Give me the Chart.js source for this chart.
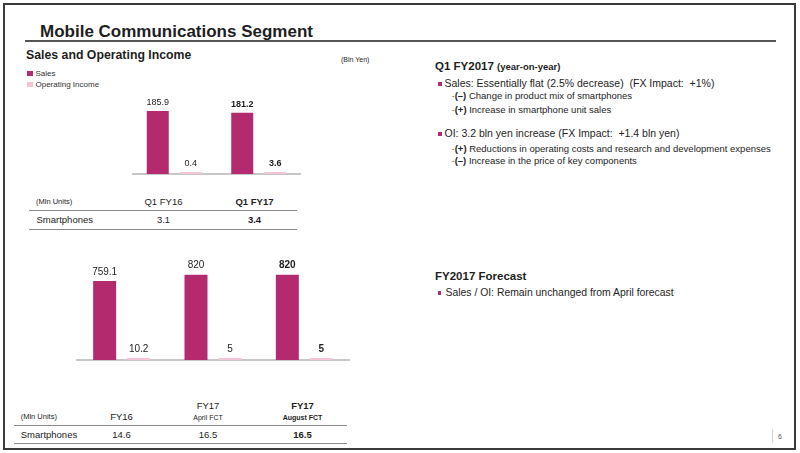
<!DOCTYPE html>
<html>
<head>
<meta charset="utf-8">
<script src="https://cdn.jsdelivr.net/npm/chart.js@4.4.1/dist/chart.umd.min.js"></script>
<style>
  html, body { margin: 0; padding: 0; background: #fff; }
  body { width: 800px; height: 453px; position: relative; overflow: hidden;
         font-family: "Liberation Sans", Arial, sans-serif; color: #1e1e1e; }
  .abs { position: absolute; line-height: 1; white-space: nowrap; }
  .frame { position: absolute; left: 3px; top: 3px; width: 789px; height: 443px; border: 2px solid #3a3a3a; }
  .rule { position: absolute; background: #555; }
  .tline { position: absolute; height: 1px; background: #8a8a8a; }
  .sq { position: absolute; }
  .c { transform: translateX(-50%); }
  .b { font-weight: bold; }
  canvas { position: absolute; }
</style>
</head>
<body>
<div class="frame"></div>

<div class="abs b" style="left:40px; top:22.5px; font-size:17px;">Mobile Communications Segment</div>
<div class="rule" style="left:25px; top:40px; width:751px; height:2px;"></div>

<div class="abs b" style="left:26px; top:49px; font-size:12.3px;">Sales and Operating Income</div>
<div class="abs" style="left:341px; top:56px; font-size:7px;">(Bln Yen)</div>
<div id="legend"></div>

<canvas id="chart_q1" width="169" height="87" style="left:132px; top:90px;"></canvas>
<canvas id="chart_fy" width="274" height="113" style="left:76px; top:250px;"></canvas>

<div id="tabla_q1"></div>
<div id="tabla_fy"></div>

<!-- texto de la derecha -->
<div class="abs" style="left:435px; top:61px; font-size:11.5px;"><span class="b">Q1 FY2017</span> <span class="b" style="font-size:9.5px;">(year-on-year)</span></div>
<div class="sq" style="left:438px; top:82px; width:3.5px; height:3.5px; background:#b42a6f;"></div>
<div class="abs" style="left:444.5px; top:78px; font-size:10.5px;">Sales: Essentially flat (2.5% decrease)&nbsp; (FX Impact:&nbsp; +1%)</div>
<div class="abs" style="left:451.5px; top:91px; font-size:9.5px;">·<b>(–)</b> Change in product mix of smartphones</div>
<div class="abs" style="left:451.5px; top:104.5px; font-size:9.5px;">·<b>(+)</b> Increase in smartphone unit sales</div>
<div class="sq" style="left:438px; top:132px; width:3.5px; height:3.5px; background:#b42a6f;"></div>
<div class="abs" style="left:444.5px; top:128px; font-size:10.5px;">OI: 3.2 bln yen increase (FX Impact:&nbsp; +1.4 bln yen)</div>
<div class="abs" style="left:451.5px; top:143.5px; font-size:9.5px;">·<b>(+)</b> Reductions in operating costs and research and development expenses</div>
<div class="abs" style="left:451.5px; top:156px; font-size:9.5px;">·<b>(–)</b> Increase in the price of key components</div>

<div class="abs b" style="left:435px; top:271px; font-size:11.5px;">FY2017 Forecast</div>
<div class="sq" style="left:437.5px; top:291px; width:3.5px; height:3.5px; background:#b42a6f;"></div>
<div class="abs" style="left:445.5px; top:287.5px; font-size:10.4px;">Sales / OI: Remain unchanged from April forecast</div>

<div style="position:absolute; left:771.5px; top:429px; width:1px; height:14px; background:#cfcfcf;"></div>
<div class="abs" style="left:778px; top:433px; font-size:7px; color:#555;">6</div>

<script>
// datos del primer trimestre
var q1_categorias = ['Q1 FY16', 'Q1 FY17'];
var q1_ventas = [185.9, 181.2];
var q1_resultado = [0.4, 3.6];
var q1_smartphones = [3.1, 3.4];

// datos del año fiscal
var fy_categorias = ['FY16', 'FY17 April FCT', 'FY17 August FCT'];
var fy_ventas = [759.1, 820, 820];
var fy_resultado = [10.2, 5, 5];
var fy_smartphones = [14.6, 16.5, 16.5];

var series = ['Sales', 'Operating Income'];
var color_ventas = '#b42a6f';
var color_resultado = '#f4c4d9';

// etiquetas de valor encima de cada barra, la ultima en negrita
var etiquetas = {
  id: 'etiquetas',
  beforeDatasetsDraw: function (chart) {
    var ctx = chart.ctx, a = chart.chartArea;
    var y0 = chart.scales.y.getPixelForValue(0);
    ctx.save();
    ctx.strokeStyle = '#b4b4b4';
    ctx.lineWidth = 1.5;
    ctx.beginPath();
    ctx.moveTo(a.left, y0);
    ctx.lineTo(a.right, y0);
    ctx.stroke();
    ctx.restore();
  },
  afterDatasetsDraw: function (chart, args, opts) {
    var ctx = chart.ctx;
    ctx.save();
    ctx.fillStyle = '#1e1e1e';
    ctx.textAlign = 'center';
    ctx.textBaseline = 'bottom';
    chart.data.datasets.forEach(function (ds, i) {
      var meta = chart.getDatasetMeta(i);
      meta.data.forEach(function (bar, j) {
        var negrita = j === ds.data.length - 1 ? 'bold ' : '';
        ctx.font = negrita + opts.size + 'px "Liberation Sans", Arial, sans-serif';
        ctx.fillText(String(ds.data[j]), bar.x, bar.y - 4);
      });
    });
    ctx.restore();
  }
};

function grafico(id, categorias, ventas, resultado, maximo, cat_pct, bar_pct, tam) {
  return new Chart(document.getElementById(id), {
    type: 'bar',
    data: {
      labels: categorias,
      datasets: [
        { label: series[0], data: ventas, backgroundColor: color_ventas,
          categoryPercentage: cat_pct, barPercentage: bar_pct },
        { label: series[1], data: resultado, backgroundColor: color_resultado,
          categoryPercentage: cat_pct, barPercentage: bar_pct, minBarLength: 2 }
      ]
    },
    options: {
      responsive: false,
      animation: false,
      layout: { padding: { bottom: 3 } },
      scales: {
        x: { display: false },
        y: { display: false, min: 0, max: maximo }
      },
      plugins: { legend: { display: false }, tooltip: { enabled: false }, etiquetas: { size: tam } }
    },
    plugins: [etiquetas]
  });
}

var chart_q1 = grafico('chart_q1', q1_categorias, q1_ventas, q1_resultado, 248, 0.781, 0.667, 9);
var chart_fy = grafico('chart_fy', fy_categorias, fy_ventas, fy_resultado, 1057, 0.745, 0.676, 10);

// leyenda
var leyenda = document.getElementById('legend');
[[color_ventas, 70.8], [color_resultado, 81.8]].forEach(function (l, i) {
  leyenda.innerHTML += '<div class="sq" style="left:27px; top:' + l[1] + 'px; width:5.5px; height:5.5px; background:' + l[0] + ';"></div>' +
    '<div class="abs" style="left:35.5px; top:' + (l[1] - 1.3) + 'px; font-size:8px; color:#333;">' + series[i] + '</div>';
});

function texto(cont, txt, x, y, tam, extra) {
  cont.innerHTML += '<div class="abs c ' + (extra || '') + '" style="left:' + x + 'px; top:' + (y - tam / 2) + 'px; font-size:' + tam + 'px;">' + txt + '</div>';
}
function linea(cont, x1, x2, y) {
  cont.innerHTML += '<div class="tline" style="left:' + x1 + 'px; top:' + y + 'px; width:' + (x2 - x1) + 'px;"></div>';
}

// tabla trimestral
var t1 = document.getElementById('tabla_q1');
var t1_cols = [163.5, 254.5];
t1.innerHTML += '<div class="abs" style="left:36px; top:198px; font-size:7.5px;">(Mln Units)</div>';
t1.innerHTML += '<div class="abs" style="left:36.5px; top:215.2px; font-size:9.5px;">Smartphones</div>';
q1_categorias.forEach(function (c, i) {
  var b = i === q1_categorias.length - 1 ? 'b' : '';
  texto(t1, c, t1_cols[i], 201.7, 9.5, b);
  texto(t1, q1_smartphones[i], t1_cols[i], 220, 9.5, b);
});
linea(t1, 29, 297, 209.5);
linea(t1, 29, 297, 228.5);

// tabla anual
var t2 = document.getElementById('tabla_fy');
var t2_cols = [121.5, 208, 302.5];
t2.innerHTML += '<div class="abs" style="left:20.7px; top:413px; font-size:7.5px;">(Mln Units)</div>';
t2.innerHTML += '<div class="abs" style="left:20.7px; top:429.5px; font-size:9.5px;">Smartphones</div>';
fy_categorias.forEach(function (c, i) {
  var b = i === fy_categorias.length - 1 ? 'b' : '';
  var partes = c.split(' ');
  if (partes.length > 1) {
    texto(t2, partes[0], t2_cols[i], 406, 9.5, b);
    texto(t2, partes.slice(1).join(' '), t2_cols[i], 417.7, 7, b);
  } else {
    texto(t2, c, t2_cols[i], 416.7, 9.5, b);
  }
  texto(t2, fy_smartphones[i], t2_cols[i], 434.3, 9.5, b);
});
linea(t2, 14, 347, 425);
linea(t2, 14, 347, 443);
</script>
</body>
</html>
